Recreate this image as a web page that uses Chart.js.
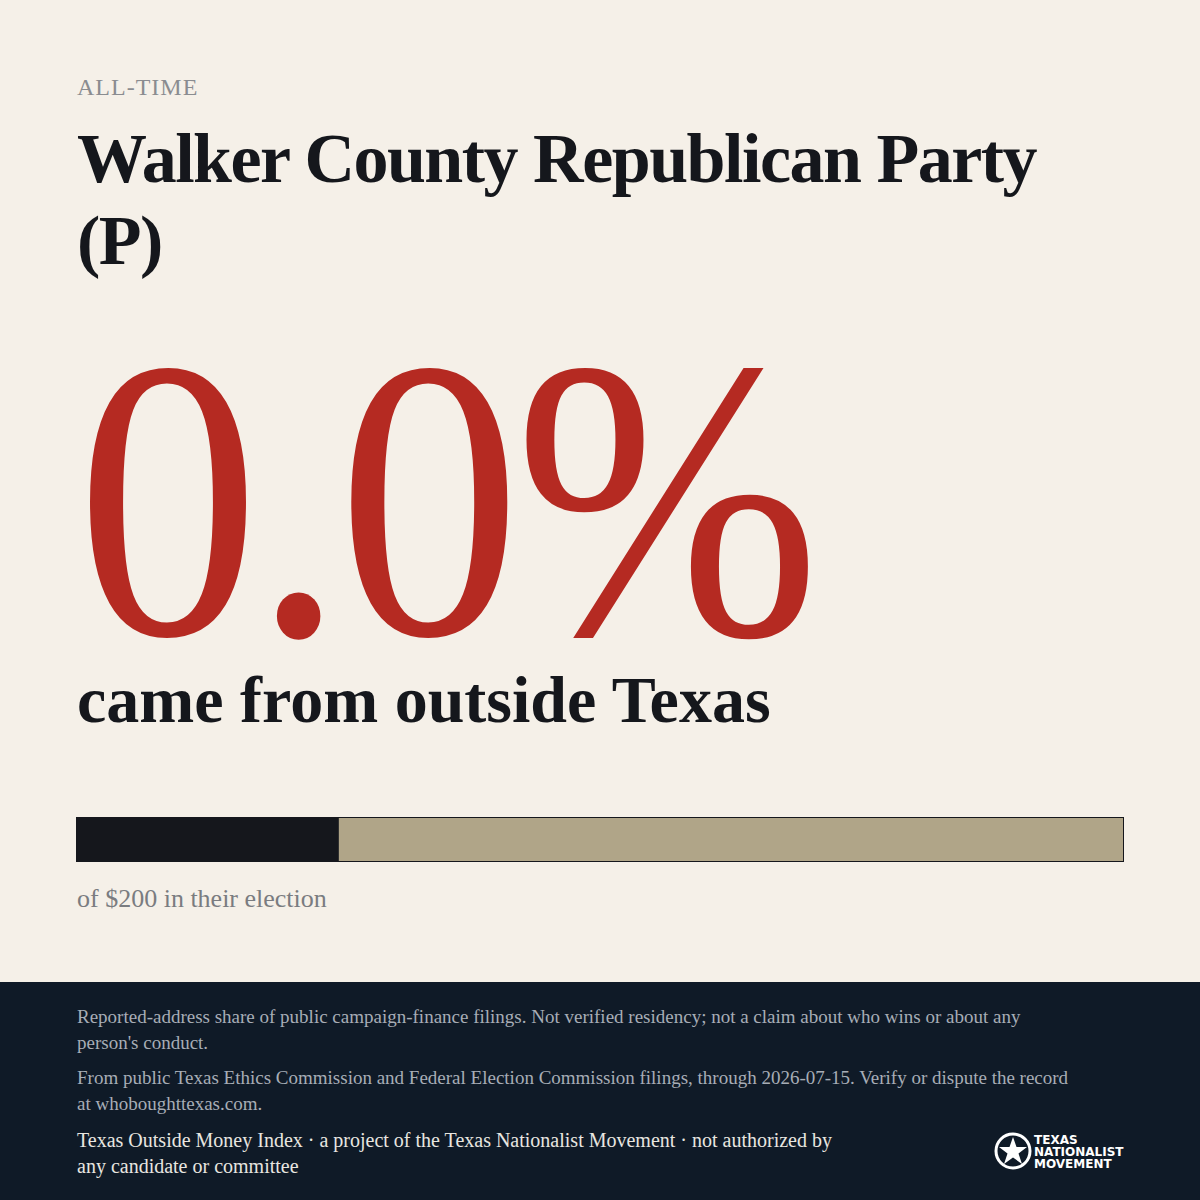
<!DOCTYPE html>
<html><head><meta charset="utf-8">
<script src="https://cdn.jsdelivr.net/npm/chart.js@4"></script>
<style>
html,body{margin:0;padding:0}
body{width:1200px;height:1200px;background:#f5f0e8;position:relative;overflow:hidden;font-family:"Liberation Serif",serif;color:#15171c}
.abs{position:absolute}
#kick{left:77px;top:74px;font-size:24px;letter-spacing:1px;color:#8a8c90}
#title{left:77px;top:118px;font-size:70px;font-weight:bold;line-height:82px;letter-spacing:-1.5px;width:1000px}
#big{left:76px;top:350px;font-size:400px;line-height:300px;height:300px;color:#b52a22;letter-spacing:-8px;transform:scaleX(0.92);transform-origin:0 0}
#sub{left:77px;top:664px;font-size:66px;font-weight:bold;letter-spacing:0px;line-height:72px}
#barwrap{left:76px;top:817px;width:1046px;height:43px;border:1px solid #15171c}
#of{left:77px;top:884px;font-size:26px;color:#7a7c80}
#foot{left:0;top:982px;width:1200px;height:218px;background:#0f1a27}
.f{position:absolute;left:77px;width:1005px;font-size:19px;line-height:26px;color:#a7adb6}
#logo{position:absolute;left:994px;top:150px;color:#fff;font-family:"DejaVu Sans";font-weight:bold;font-size:12px;line-height:12px}
</style></head><body>
<div class="abs" id="kick">ALL-TIME</div>
<div class="abs" id="title">Walker County Republican Party (P)</div>
<div class="abs" id="big">0.0%</div>
<div class="abs" id="sub">came from outside Texas</div>
<div class="abs" id="barwrap"><canvas id="c" width="1046" height="43"></canvas></div>
<div class="abs" id="of">of $200 in their election</div>
<div class="abs" id="foot">
<div class="f" style="top:22px">Reported-address share of public campaign-finance filings. Not verified residency; not a claim about who wins or about any person's conduct.</div>
<div class="f" style="top:83px">From public Texas Ethics Commission and Federal Election Commission filings, through 2026-07-15. Verify or dispute the record at whoboughttexas.com.</div>
<div class="f" style="top:145px;color:#e8e6e0;font-size:20px;width:770px">Texas Outside Money Index · a project of the Texas Nationalist Movement · not authorized by any candidate or committee</div>
<div id="logo"><svg width="38" height="38" style="position:absolute;left:0;top:0" viewBox="0 0 38 38"><circle cx="19" cy="19" r="17" fill="none" stroke="#fff" stroke-width="3"/><polygon points="19,5 22.5,15 33,15 24.5,21.5 28,32 19,25.5 10,32 13.5,21.5 5,15 15.5,15" fill="#fff"/></svg>
<div style="position:absolute;left:40px;top:2px;white-space:nowrap">TEXAS<br>NATIONALIST<br>MOVEMENT</div></div>
</div>
<script>
const categories=["share"];
const insideValues=[25];
const outsideValues=[75];
new Chart(document.getElementById("c"),{type:"bar",
data:{labels:categories,datasets:[
{data:insideValues,backgroundColor:"#15171c",borderWidth:0},
{data:outsideValues,backgroundColor:"#b0a588",borderWidth:0}]},
options:{indexAxis:"y",responsive:false,animation:false,
datasets:{bar:{barPercentage:1,categoryPercentage:1}},
plugins:{legend:{display:false},tooltip:{enabled:false}},
layout:{padding:0},
scales:{x:{stacked:true,min:0,max:100,display:false},y:{stacked:true,display:false}}}});
</script>
</body></html>
